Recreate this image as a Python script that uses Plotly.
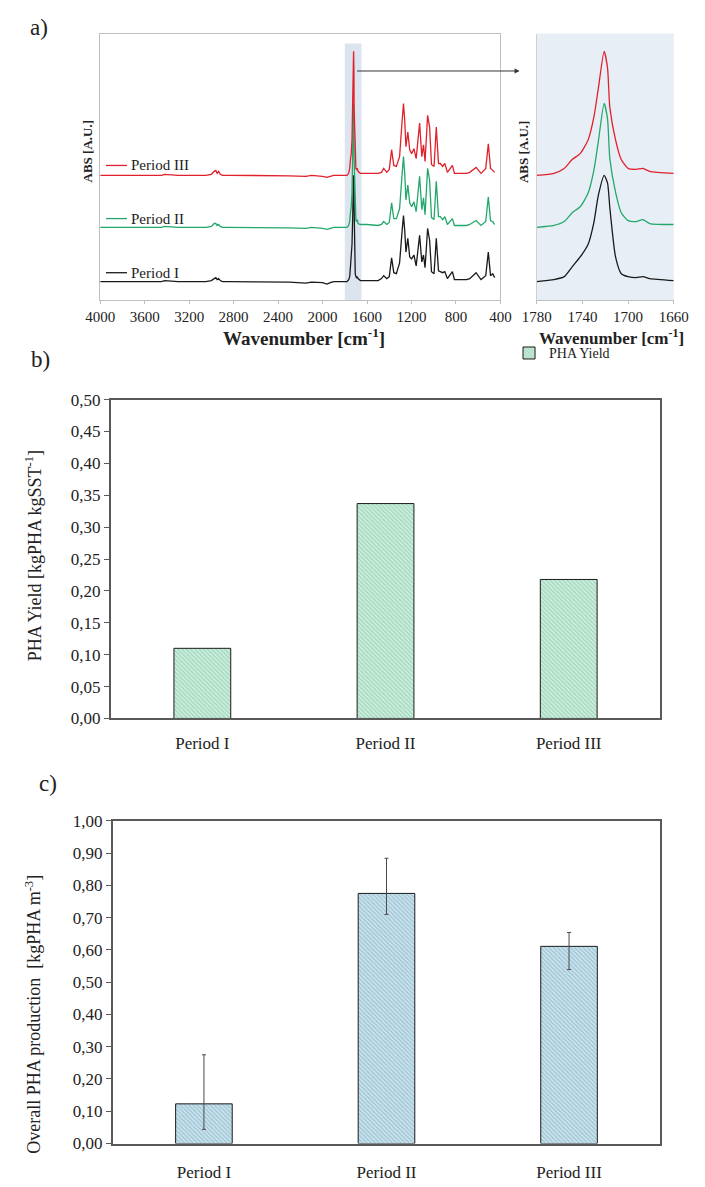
import plotly.graph_objects as go

W, H = 705, 1187

# ---------------- Panel a: FTIR spectra (arbitrary units) ----
WN = [4000, 3700, 3450, 3420, 3300, 3050, 3000, 2975, 2960, 2948, 2935, 2920, 2900, 2850,
      2600, 2300, 2150, 2100, 2000, 1960, 1930, 1900, 1800, 1780, 1765, 1756, 1749, 1742,
      1735, 1730, 1726, 1721, 1718, 1716, 1711, 1706, 1700, 1693, 1687, 1681, 1660, 1600,
      1500, 1470, 1450, 1422, 1400, 1379, 1359, 1336, 1307, 1284, 1272, 1261, 1250, 1233,
      1216, 1199, 1178, 1158, 1127, 1107, 1092, 1078, 1055, 1037, 1020, 997, 977, 957,
      940, 920, 900, 877, 832, 814, 760, 704, 676, 619, 575, 532, 509, 489, 469, 452]

ABS_P3 = [0, 0, 0, 1, 0, 0, 1, 4, 5, 2, 4, 1, 0, 0,
          0, -0.5, -1, 0, -1, -2, -1, 0, 0, 0, 2, 7, 16, 22,
          36, 59, 89, 126, 109, 69, 36, 16, 7, 6, 7, 4, 2, 2,
          2, 3, 7, 3, 6, 26, 10, 9, 19, 56, 73, 56, 29, 44,
          26, 22, 27, 17, 53, 19, 31, 14, 61, 49, 11, 9, 49, 12,
          12, 9, 12, 3, 10, 2, 2, 2, 3, 8, 2, 7, 32, 7, 5, 3]

ABS_P2 = [0, 0, 0, 1, 0, 0, 1, 4, 4, 2, 3, 1, 0, 0,
          0, -0.5, -1, 0, -1, -2, -1, 0, 0, 0, 2, 6, 15, 21,
          35, 58, 88, 126, 110, 70, 36, 15, 7, 6, 8, 4, 3, 3,
          2, 3, 6, 3, 5, 25, 9, 9, 19, 55, 72, 55, 28, 43,
          25, 21, 26, 16, 52, 18, 30, 13, 60, 48, 10, 8, 47, 11,
          11, 8, 11, 3, 9, 2, 2, 2, 3, 7, 2, 6, 31, 7, 6, 3]

ABS_P1 = [0, 0, 0, 1, 0, 0, 1, 3, 4, 2, 3, 1, 0, 0,
          0, -0.5, -1.5, -0.5, -1, -2.5, -1, 0, 0, 0, 2, 5, 15, 25,
          38, 60, 88, 108, 100, 75, 25, 8, 5, 4, 5, 3, 1, 1,
          1, 3, 6, 3, 5, 24, 9, 8, 19, 52, 67, 52, 30, 44,
          25, 23, 27, 16, 47, 20, 27, 14, 54, 42, 10, 8, 44, 11,
          10, 9, 10, 3, 10, 2, 2, 2, 3, 9, 2, 6, 30, 6, 8, 4]

SPECTRA_NAMES = ["Period I", "Period II", "Period III"]
SPECTRA_OFFSETS = [0, 55, 108]

MAIN_TICKS = [4000, 3600, 3200, 2800, 2400, 2000, 1600, 1200, 800, 400]
INSET_TICKS = [1780, 1740, 1700, 1660]

# ---------------- Panel b / c ---------------------------------------------------------
PERIODS = ["Period I", "Period II", "Period III"]
PHA_YIELD = [0.110, 0.337, 0.218]
PHA_PROD = [0.123, 0.775, 0.611]
PHA_PROD_ERR_PLUS = [0.152, 0.109, 0.043]
PHA_PROD_ERR_MINUS = [0.079, 0.065, 0.072]

FONT = "Liberation Serif, Times New Roman, serif"
COLORS = {"Period I": "#1a1a1a", "Period II": "#22a86a", "Period III": "#e0202a"}


def px_x(p):
    return p / W


def px_y(p):
    return 1 - p / H


fig = go.Figure()

spectra = [ABS_P1, ABS_P2, ABS_P3]
for name, vals, off in zip(SPECTRA_NAMES, spectra, SPECTRA_OFFSETS):
    yv = [v + off for v in vals]
    fig.add_trace(go.Scatter(x=WN, y=yv, mode="lines", xaxis="x", yaxis="y",
                             line=dict(color=COLORS[name], width=1.3),
                             showlegend=False, hoverinfo="skip"))
    xs = [w for w in WN if 1655 <= w <= 1785]
    ys = [y for w, y in zip(WN, yv) if 1655 <= w <= 1785]
    fig.add_trace(go.Scatter(x=xs, y=ys, mode="lines", xaxis="x2", yaxis="y2",
                             line=dict(color=COLORS[name], width=1.3, shape="spline", smoothing=0.6),
                             showlegend=False, hoverinfo="skip"))

fig.add_trace(go.Bar(x=PERIODS, y=PHA_YIELD, xaxis="x3", yaxis="y3", name="PHA Yield",
                     marker=dict(color="#cdeedd", line=dict(color="#1a1a1a", width=1),
                                 pattern=dict(shape="\\", size=3, solidity=0.45,
                                              fgcolor="#6fbf9a", bgcolor="#d0efdf")),
                     showlegend=True))

fig.add_trace(go.Bar(x=PERIODS, y=PHA_PROD, xaxis="x4", yaxis="y4", name="Overall PHA production",
                     marker=dict(color="#c9e1ec", line=dict(color="#1a1a1a", width=1),
                                 pattern=dict(shape="\\", size=3, solidity=0.45,
                                              fgcolor="#6fa3ba", bgcolor="#cce4ee")),
                     error_y=dict(type="data", symmetric=False, array=PHA_PROD_ERR_PLUS,
                                  arrayminus=PHA_PROD_ERR_MINUS, color="#4a4a4a",
                                  thickness=1, width=2),
                     showlegend=False))

a_y = [px_y(296), px_y(25)]
light = "#bfbfbf"
dark = "#595959"
tickfont_a = dict(family=FONT, size=15, color="#222")
tickfont_bc = dict(family=FONT, size=17, color="#222")

fig.update_layout(
    width=W, height=H, autosize=False,
    margin=dict(l=0, r=0, t=0, b=0),
    paper_bgcolor="white", plot_bgcolor="white",
    separators=",.",
    bargap=0.69,
    font=dict(family=FONT, color="#222"),
    xaxis=dict(domain=[px_x(89), px_x(507)], range=[4000, 400], anchor="y",
               tickvals=MAIN_TICKS, ticks="outside", ticklen=3, tickcolor=light,
               showline=True, linecolor=light, mirror=True, showgrid=False,
               zeroline=False, tickfont=tickfont_a),
    yaxis=dict(domain=a_y, range=[-19, 252], anchor="x", showticklabels=False,
               showline=True, linecolor=light, mirror=True, showgrid=False,
               zeroline=False, ticks=""),
    xaxis2=dict(domain=[px_x(545), px_x(688)], range=[1780, 1660], anchor="y2",
                tickvals=INSET_TICKS, ticks="outside", ticklen=3, tickcolor=light,
                showline=True, linecolor=light, showgrid=False, zeroline=False,
                tickfont=tickfont_a),
    yaxis2=dict(domain=a_y, range=[-19, 252], anchor="x2", showticklabels=False,
                showline=True, linecolor="#d0d0d0", showgrid=False, zeroline=False,
                ticks=""),
    xaxis3=dict(domain=[px_x(100), px_x(674)], anchor="y3", type="category",
                showline=True, linecolor=dark, linewidth=1.5, mirror=True,
                ticks="", showgrid=False, tickfont=tickfont_bc, ticklabelstandoff=8),
    yaxis3=dict(domain=[px_y(721), px_y(397)], anchor="x3", range=[0, 0.5],
                dtick=0.05, tick0=0, tickformat=".2f", ticks="outside", ticklen=5,
                tickcolor=dark, showline=True, linecolor=dark, linewidth=1.5,
                mirror=True, showgrid=False, zeroline=False, tickfont=tickfont_bc),
    xaxis4=dict(domain=[px_x(102), px_x(674)], anchor="y4", type="category",
                showline=True, linecolor=dark, linewidth=1.5, mirror=True,
                ticks="", showgrid=False, tickfont=tickfont_bc, ticklabelstandoff=12),
    yaxis4=dict(domain=[px_y(1153), px_y(825)], anchor="x4", range=[0, 1.0],
                dtick=0.1, tick0=0, tickformat=".2f", ticks="outside", ticklen=5,
                tickcolor=dark, showline=True, linecolor=dark, linewidth=1.5,
                mirror=True, showgrid=False, zeroline=False, tickfont=tickfont_bc),
    legend=dict(x=px_x(516), y=px_y(350), xanchor="left", yanchor="middle",
                font=dict(family=FONT, size=14, color="#222"),
                bgcolor="rgba(0,0,0,0)", itemwidth=30),
)

# highlight band and inset background
fig.add_shape(type="rect", xref="x", yref="y", x0=1800, x1=1650, y0=-19, y1=242,
              fillcolor="#dce4ef", line=dict(width=0), layer="below")
fig.add_shape(type="rect", xref="x2 domain", yref="y2 domain", x0=0, x1=1, y0=0, y1=1,
              fillcolor="#e8eef6", line=dict(width=0), layer="below")

# inline series labels in panel a
label_rows = {"Period III": 159, "Period II": 213, "Period I": 268}
for name, yy in label_rows.items():
    fig.add_shape(type="line", xref="paper", yref="paper",
                  x0=px_x(95), x1=px_x(117), y0=px_y(yy), y1=px_y(yy),
                  line=dict(color=COLORS[name], width=1.3))
    fig.add_annotation(text=name, xref="paper", yref="paper", x=px_x(119), y=px_y(yy),
                       xanchor="left", yanchor="middle", showarrow=False,
                       font=dict(family=FONT, size=15, color="#222"))

# arrow from band to inset
fig.add_annotation(text="", xref="paper", yref="paper", x=px_x(527), y=px_y(63),
                   ax=-164, ay=0, showarrow=True, arrowhead=2, arrowsize=1,
                   arrowwidth=1, arrowcolor="#333")

anns = [
    ("a)", 25, 19, 23, 0),
    ("b)", 27, 356, 23, 0),
    ("c)", 34, 787, 23, 0),
    ("<b>ABS [A.U.]</b>", 76, 145, 13, -90),
    ("<b>ABS [A.U.]</b>", 531, 145, 13, -90),
    ("<b>Wavenumber [cm<sup>-1</sup>]</b>", 302, 333, 19, 0),
    ("<b>Wavenumber [cm<sup>-1</sup>]</b>", 623, 333, 17, 0),
    ("PHA Yield [kgPHA kgSST<sup>-1</sup>]", 19, 556, 18, -90),
    ("Overall PHA production  [kgPHA m<sup>-3</sup>]", 19, 1022, 18, -90),
]
for text, x, y, size, ang in anns:
    fig.add_annotation(text=text, xref="paper", yref="paper", x=px_x(x), y=px_y(y),
                       xanchor="center", yanchor="middle", showarrow=False, textangle=ang,
                       font=dict(family=FONT, size=size, color="#222"))

fig.write_html("out.html")
